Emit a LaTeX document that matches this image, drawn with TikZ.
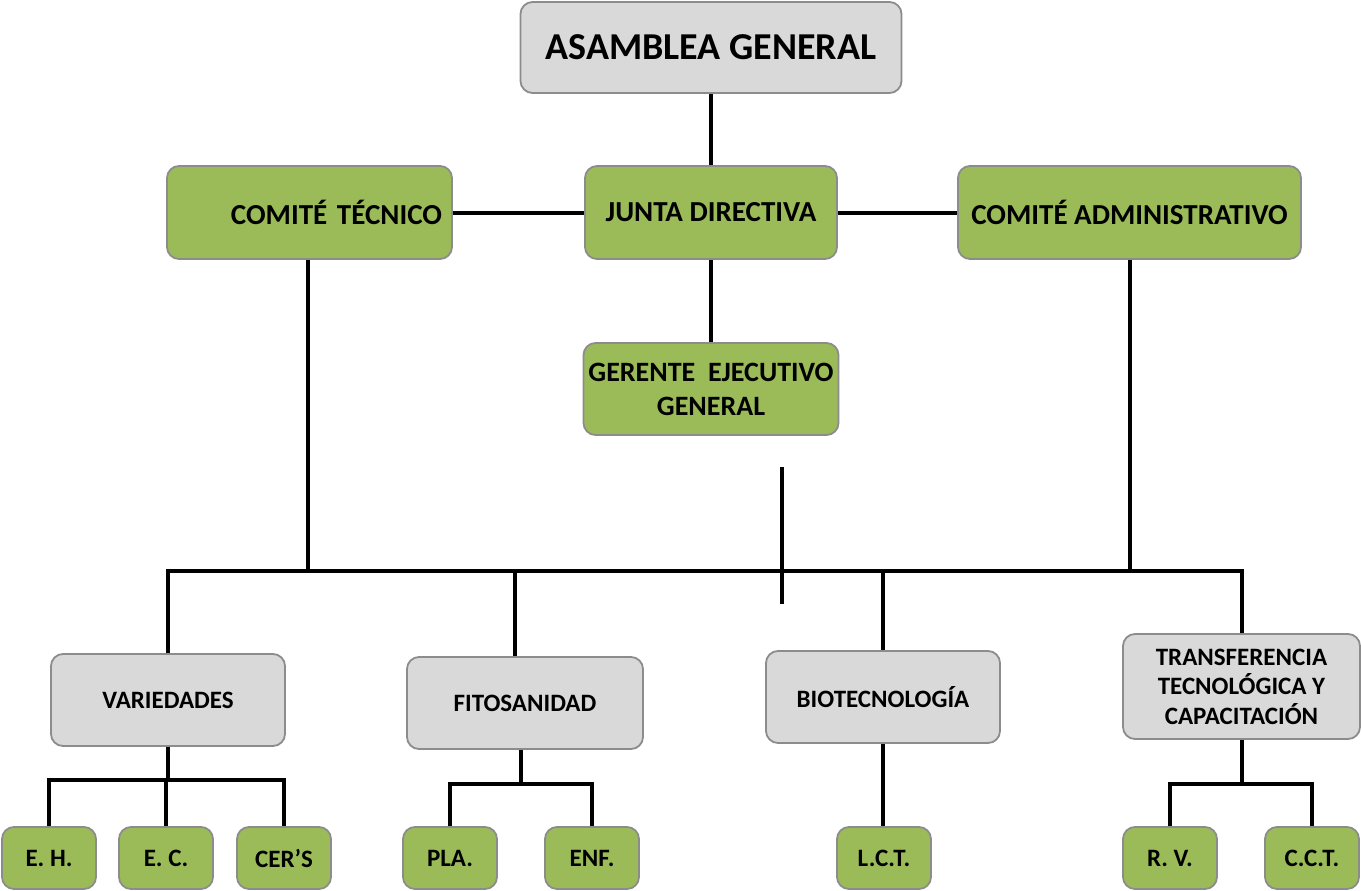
\documentclass[tikz,border=0pt]{standalone}
\usepackage{fontspec}
\setmainfont{Carlito}
\usepackage{tikz}

\definecolor{boxgreen}{HTML}{9BBB59}
\definecolor{boxgray}{HTML}{D9D9D9}
\definecolor{boxline}{HTML}{8C8C8C}

\tikzset{
  box/.style={draw=boxline,line width=1.8pt,rounded corners=12pt,inner sep=0pt,
    align=center,font=\bfseries\fontsize{29}{34}\selectfont},
  greenbox/.style={box,fill=boxgreen},
  graybox/.style={box,fill=boxgray,font=\bfseries\fontsize{25}{29.5}\selectfont},
  leaf/.style={greenbox,minimum width=94pt,minimum height=62pt,font=\bfseries\fontsize{25}{30}\selectfont},
  link/.style={line width=4pt}
}

\begin{document}
\begin{tikzpicture}[x=1pt,y=-1pt]
            \useasboundingbox (0,0) rectangle (1361,891);
            \node[graybox,minimum width=381pt,minimum height=91pt,font=\bfseries\fontsize{38}{44}\selectfont] (asamblea) at (711,47.5) {ASAMBLEA GENERAL};
            \node[greenbox,minimum width=285pt,minimum height=93pt,text width=265pt,align=right] (tecnico) at (309.5,212.5) {COMITÉ TÉCNICO};
            \node[greenbox,minimum width=252pt,minimum height=93pt] (junta) at (711,212.5) {JUNTA DIRECTIVA};
            \node[greenbox,minimum width=343pt,minimum height=93pt] (admin) at (1129.5,212.5) {COMITÉ ADMINISTRATIVO};
            \node[greenbox,minimum width=255pt,minimum height=92pt,font=\bfseries\fontsize{28}{34}\selectfont] (gerente) at (711,389) {GERENTE\ \ EJECUTIVO\\GENERAL};
            \node[graybox,minimum width=234pt,minimum height=92pt] (variedades) at (168,700) {VARIEDADES};
            \node[graybox,minimum width=236pt,minimum height=92pt] (fito) at (525,703) {FITOSANIDAD};
            \node[graybox,minimum width=234pt,minimum height=92pt] (biotec) at (883,697) {BIOTECNOLOGÍA};
            \node[graybox,minimum width=237pt,minimum height=105pt] (transf) at (1241.5,686.5) {TRANSFERENCIA\\TECNOLÓGICA Y\\CAPACITACIÓN};
            \node[leaf] (eh) at (49,858) {E. H.};
            \node[leaf] (ec) at (166,858) {E. C.};
            \node[leaf] (cers) at (284,858) {CER’S};
            \node[leaf] (pla) at (450,858) {PLA.};
            \node[leaf] (enf) at (592,858) {ENF.};
            \node[leaf] (lct) at (884,858) {L.C.T.};
            \node[leaf] (rv) at (1170,858) {R. V.};
            \node[leaf] (cct) at (1312,858) {C.C.T.};
            \coordinate (bus) at (700,571);
            \coordinate (cuttop) at (782,467);
            \coordinate (cutbot) at (782,604);
            \coordinate (vbar) at (168,780);
            \coordinate (fbar) at (521,784);
            \coordinate (tbar) at (1242,784);
            \draw[link] (asamblea) -- (junta);
            \draw[link] (tecnico) -- (junta);
            \draw[link] (junta) -- (admin);
            \draw[link] (junta) -- (gerente);
            \draw[link] ([xshift=-2pt]tecnico.south) -- ([xshift=-2pt]tecnico.south |- bus);
            \draw[link] (admin.south) -- (admin.south |- bus);
            \draw[link] (variedades.north) |- (bus) -| (transf.north);
            \draw[link] ([xshift=-10pt]fito.north) -- ([xshift=-10pt]fito.north |- bus);
            \draw[link] (biotec.north) -- (biotec.north |- bus);
            \draw[link] (cuttop) -- (cutbot);
            \draw[link] (variedades.south) -- (vbar);
            \draw[link] (eh.north) |- (vbar) -| (cers.north);
            \draw[link] (ec.north) -- (ec.north |- vbar);
            \draw[link] ([xshift=-4pt]fito.south) -- (fbar);
            \draw[link] (pla.north) |- (fbar) -| (enf.north);
            \draw[link] (biotec.south) -- (biotec.south |- lct.north);
            \draw[link] ([xshift=0.5pt]transf.south) -- (tbar);
            \draw[link] (rv.north) |- (tbar) -| (cct.north);
        \end{tikzpicture}
\end{document}
